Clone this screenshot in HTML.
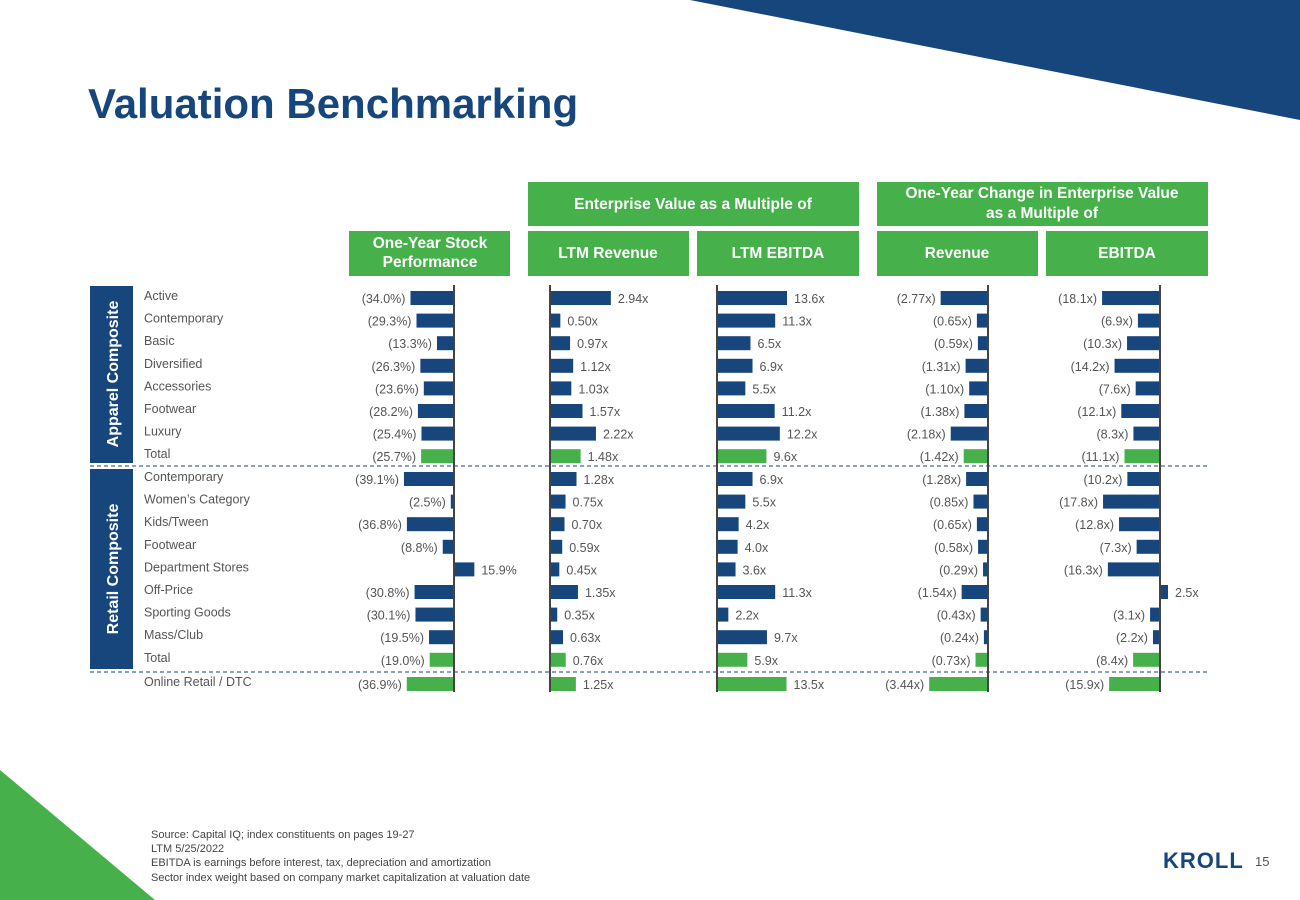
<!DOCTYPE html>
<html><head><meta charset="utf-8"><style>
body{margin:0;width:1300px;height:900px;overflow:hidden;background:#fff;font-family:"Liberation Sans",sans-serif}
svg{position:absolute;left:0;top:0}
</style></head><body>
<svg id="chart" width="1300" height="900">
<polygon points="690,0 1300,0 1300,120" fill="#17467d"/>
<polygon points="0,770 0,900 155,900" fill="#46b04a"/>
<text x="88" y="118" font-size="42" font-weight="bold" fill="#17467d">Valuation Benchmarking</text>
<g font-size="15.5" font-weight="bold" fill="#fff" text-anchor="middle">
<rect x="528" y="182" width="331" height="44" fill="#46b04a"/>
<text x="693" y="209">Enterprise Value as a Multiple of</text>
<rect x="877" y="182" width="331" height="44" fill="#46b04a"/>
<text x="1042" y="198">One-Year Change in Enterprise Value</text>
<text x="1042" y="218">as a Multiple of</text>
<rect x="349" y="231" width="161" height="45" fill="#46b04a"/>
<text x="430" y="248">One-Year Stock</text>
<text x="430" y="267">Performance</text>
<rect x="528" y="231" width="161" height="45" fill="#46b04a"/>
<text x="608" y="258">LTM Revenue</text>
<rect x="697" y="231" width="162" height="45" fill="#46b04a"/>
<text x="778" y="258">LTM EBITDA</text>
<rect x="877" y="231" width="161" height="45" fill="#46b04a"/>
<text x="957" y="258">Revenue</text>
<rect x="1046" y="231" width="162" height="45" fill="#46b04a"/>
<text x="1127" y="258">EBITDA</text>
</g>
<rect x="90" y="286" width="43" height="177" fill="#17467d"/>
<text transform="translate(118,374) rotate(-90)" text-anchor="middle" font-size="16" font-weight="bold" fill="#fff">Apparel Composite</text>
<rect x="90" y="469" width="43" height="200" fill="#17467d"/>
<text transform="translate(118,569) rotate(-90)" text-anchor="middle" font-size="16" font-weight="bold" fill="#fff">Retail Composite</text>
<line x1="90" y1="466" x2="1210" y2="466" stroke="#17467d" stroke-dasharray="4,3"/>
<line x1="90" y1="672" x2="1210" y2="672" stroke="#17467d" stroke-dasharray="4,3"/>
<g id="marks"></g>
<g font-size="11" fill="#444">
<text x="151" y="838">Source: Capital IQ; index constituents on pages 19-27</text>
<text x="151" y="852">LTM 5/25/2022</text>
<text x="151" y="866">EBITDA is earnings before interest, tax, depreciation and amortization</text>
<text x="151" y="881">Sector index weight based on company market capitalization at valuation date</text>
</g>
<text x="1163" y="868" font-size="22" font-weight="bold" fill="#17467d" letter-spacing="1">KROLL</text>
<text x="1255" y="866" font-size="13" fill="#555">15</text>
</svg>
<script>
const categories=["Active","Contemporary","Basic","Diversified","Accessories","Footwear","Luxury","Total","Contemporary","Women’s Category","Kids/Tween","Footwear","Department Stores","Off-Price","Sporting Goods","Mass/Club","Total","Online Retail / DTC"];
const stockPerf=[-34.0,-29.3,-13.3,-26.3,-23.6,-28.2,-25.4,-25.7,-39.1,-2.5,-36.8,-8.8,15.9,-30.8,-30.1,-19.5,-19.0,-36.9];
const ltmRevenue=[2.94,0.50,0.97,1.12,1.03,1.57,2.22,1.48,1.28,0.75,0.70,0.59,0.45,1.35,0.35,0.63,0.76,1.25];
const ltmEbitda=[13.6,11.3,6.5,6.9,5.5,11.2,12.2,9.6,6.9,5.5,4.2,4.0,3.6,11.3,2.2,9.7,5.9,13.5];
const revChange=[-2.77,-0.65,-0.59,-1.31,-1.10,-1.38,-2.18,-1.42,-1.28,-0.85,-0.65,-0.58,-0.29,-1.54,-0.43,-0.24,-0.73,-3.44];
const ebitdaChange=[-18.1,-6.9,-10.3,-14.2,-7.6,-12.1,-8.3,-11.1,-10.2,-17.8,-12.8,-7.3,-16.3,2.5,-3.1,-2.2,-8.4,-15.9];
const totals=[7,16,17];
const ns="http://www.w3.org/2000/svg";
const g=document.getElementById('marks');
function rowY(i){if(i<8)return 298+i*22.6;if(i<17)return 479+(i-8)*22.6;return 684;}
function mk(tag,attrs){const e=document.createElementNS(ns,tag);for(const k in attrs)e.setAttribute(k,attrs[k]);g.appendChild(e);return e;}
const cols=[
 {name:'stock',vals:stockPerf,axis:454,scale:1.28,fmt:v=>v<0?'('+Math.abs(v).toFixed(1)+'%)':v.toFixed(1)+'%'},
 {name:'ltm-revenue',vals:ltmRevenue,axis:550,scale:20.7,fmt:v=>v.toFixed(2)+'x'},
 {name:'ltm-ebitda',vals:ltmEbitda,axis:717,scale:5.15,fmt:v=>v.toFixed(1)+'x'},
 {name:'revenue-change',vals:revChange,axis:988,scale:17.1,fmt:v=>v<0?'('+Math.abs(v).toFixed(2)+'x)':v.toFixed(2)+'x'},
 {name:'ebitda-change',vals:ebitdaChange,axis:1160,scale:3.2,fmt:v=>v<0?'('+Math.abs(v).toFixed(1)+'x)':v.toFixed(1)+'x'}
];
categories.forEach((c,i)=>{
 const t=mk('text',{x:144,y:rowY(i)+2,'font-size':12.5,fill:'#555'});
 t.textContent=c;
 
 
});
cols.forEach(col=>{
 col.vals.forEach((v,i)=>{
  const y=rowY(i);const w=Math.abs(v)*col.scale;
  const x=v<0?col.axis-w:col.axis;
  const r=mk('rect',{x:x,y:y-7,width:w,height:14,fill:totals.includes(i)?'#46b04a':'#17467d'});
  
  
  const t=mk('text',{x:v<0?x-5:x+w+7,y:y+5,'font-size':12.5,fill:'#555','text-anchor':v<0?'end':'start'});
  t.textContent=col.fmt(v);
  
  
 });
 const l=mk('line',{x1:col.axis,y1:285,x2:col.axis,y2:692,stroke:'#444','stroke-width':2});
 
 
});
</script>
</body></html>
